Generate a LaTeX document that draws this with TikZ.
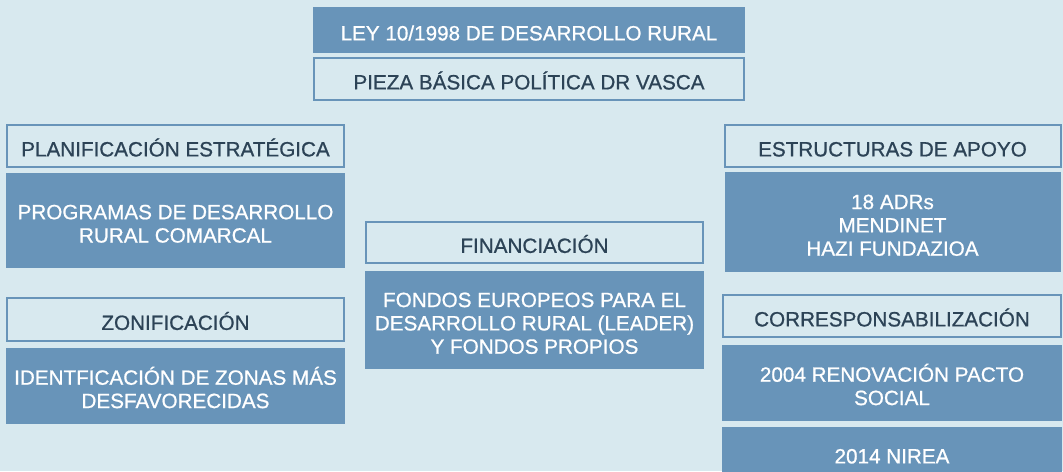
\documentclass[tikz,border=0pt]{standalone}
\usepackage{fontspec}
\setmainfont{Liberation Sans}[FakeBold=0.8]
\definecolor{bg}{HTML}{D8E9EF}
\definecolor{boxblue}{HTML}{6894B9}
\definecolor{darktext}{HTML}{2C4356}
\newcommand\px{0.75pt}
\newcommand\tl{\rule{0pt}{19.1pt}}
\newcommand\bl{\rule[-3.5pt]{0pt}{3.5pt}}
\begin{document}
\begin{tikzpicture}[x=0.75pt,y=-0.75pt,
  font=\fontsize{15.5}{17.5}\selectfont,
  fillbox/.style={rectangle, fill=boxblue, draw=none, text=white, inner sep=0pt, align=center},
  linebox/.style={rectangle, draw=boxblue, line width=1.5pt, text=darktext, inner sep=0pt, align=center}]
\path[use as bounding box, fill=bg] (0,0) rectangle (1063,471);
\clip (0,0) rectangle (1063,471);
\node[fillbox, minimum width=432*\px, minimum height=46*\px] (ley) at (529,30) {\tl LEY 10/1998 DE DESARROLLO RURAL\bl};
\node[linebox, minimum width=430*\px, minimum height=42*\px] (pieza) at (529,79) {\tl PIEZA BÁSICA POLÍTICA DR VASCA\bl};
\node[linebox, minimum width=337*\px, minimum height=42*\px] (planif) at (175.5,146) {\tl PLANIFICACIÓN ESTRATÉGICA\bl};
\node[fillbox, minimum width=339*\px, minimum height=95*\px] (prog) at (175.5,220.5) {\tl PROGRAMAS DE DESARROLLO\\RURAL COMARCAL\bl};
\node[linebox, minimum width=337*\px, minimum height=43*\px] (zonif) at (175.5,319.5) {\tl ZONIFICACIÓN\bl};
\node[fillbox, minimum width=339*\px, minimum height=76*\px] (ident) at (175.5,386) {\tl IDENTFICACIÓN DE ZONAS MÁS\\DESFAVORECIDAS\bl};
\node[linebox, minimum width=337*\px, minimum height=41*\px] (financ) at (534.5,242.5) {\tl FINANCIACIÓN\bl};
\node[fillbox, minimum width=339*\px, minimum height=98*\px] (fondos) at (534.5,320) {\tl FONDOS EUROPEOS PARA EL\\DESARROLLO RURAL (LEADER)\\Y FONDOS PROPIOS\bl};
\node[linebox, minimum width=336*\px, minimum height=42*\px] (estruct) at (892.5,146) {\tl ESTRUCTURAS DE APOYO\bl};
\node[fillbox, minimum width=336*\px, minimum height=100*\px] (adrs) at (892.5,222) {\tl 18 ADRs\\MENDINET\\HAZI FUNDAZIOA\bl};
\node[linebox, minimum width=338*\px, minimum height=42*\px] (corresp) at (892,316) {\tl CORRESPONSABILIZACIÓN\bl};
\node[fillbox, minimum width=340*\px, minimum height=76*\px] (r2004) at (892,383) {\tl 2004 RENOVACIÓN PACTO\\SOCIAL\bl};
\node[fillbox, minimum width=340*\px, minimum height=52*\px] (r2014) at (892,453) {\tl 2014 NIREA\bl};
\end{tikzpicture}
\end{document}
